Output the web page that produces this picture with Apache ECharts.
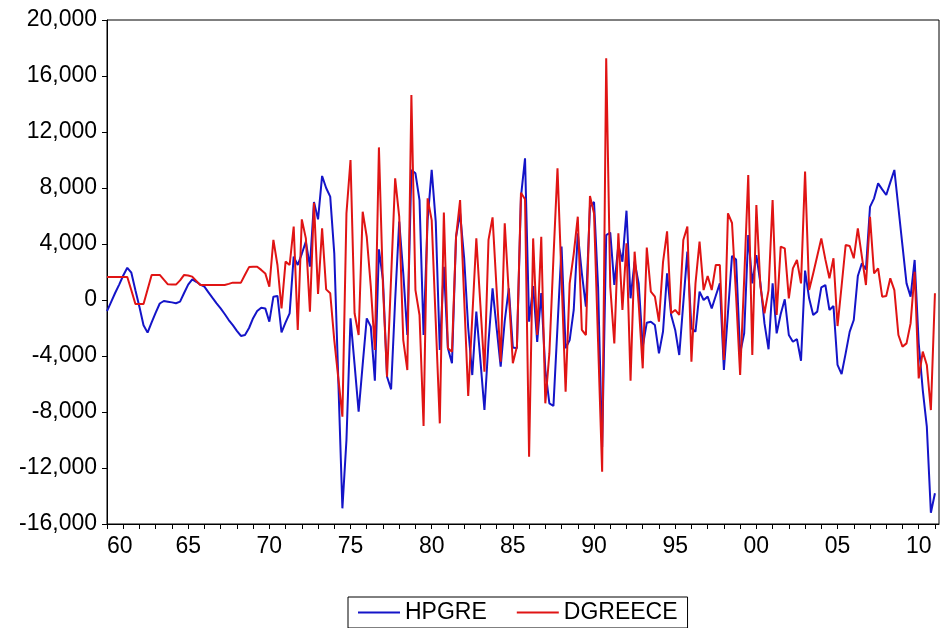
<!DOCTYPE html>
<html>
<head>
<meta charset="utf-8">
<script src="https://cdn.jsdelivr.net/npm/echarts@6/dist/echarts.min.js"></script>
<style>html,body{margin:0;padding:0;background:#fff}#c{width:941px;height:628px}</style>
</head>
<body>
<div id="c"></div>
<script>
// Quarterly observations, 1960Q1 .. 2011Q1
const START_YEAR = 1960;
const PERIODS_PER_YEAR = 4;

const HPGRE = [
-790,-150,500,1100,1750,2300,1950,700,-500,-1800,
-2330,-1600,-900,-250,-70,-120,-170,-230,-120,500,
1100,1480,1300,1100,950,550,150,-240,-600,-1000,
-1430,-1800,-2200,-2570,-2500,-2000,-1300,-790,-550,-600,
-1550,240,290,-2310,-1600,-950,3100,2500,3300,4170,
2380,7000,5760,8860,8000,7380,3330,-5800,-14880,-10000,
-1310,-4600,-7980,-4600,-1310,-1900,-5760,3620,1430,-5480,
-6380,0,5600,1900,-2500,9290,9050,7140,-2500,5710,
9290,5600,-3570,2380,-3450,-4520,4520,6190,3000,-2000,
-5360,-830,-4300,-7860,-3000,830,-2000,-4760,-1500,830,
-3400,-3450,7380,10120,-1550,1000,-3000,500,-5000,-7380,
-7570,-1900,3810,-3450,-2860,-710,4760,1900,-480,6670,
7000,950,-10500,4640,4810,1070,3930,2740,6380,120,
2740,1190,-3330,-1620,-1550,-1790,-3810,-2250,1900,-1070,
-2140,-3930,-200,3450,-2020,-2260,600,0,240,-600,
300,1190,-5000,-900,3150,2900,-3810,-2380,4640,1190,
3210,1190,-1670,-3520,1190,-2380,-1000,50,-2500,-2980,
-2790,-4340,2100,120,-1070,-830,900,1070,-710,-430,
-4640,-5290,-3810,-2260,-1430,1710,2620,2190,6650,7260,
8330,7900,7500,8400,9290,6590,3890,1190,240,2860,
-3100,-6430,-9050,-15200,-13800
];

const DGREECE = [
1640,1640,1640,1640,1640,1640,700,-290,-290,-290,
750,1790,1790,1790,1450,1120,1100,1100,1400,1790,
1750,1670,1370,1070,1070,1070,1070,1070,1070,1070,
1150,1240,1240,1240,1800,2350,2380,2380,2150,1900,
950,4290,2500,-600,2740,2500,5240,-2140,5760,4400,
-830,6950,430,5120,760,480,-2860,-5600,-8330,6190,
10000,-950,-2500,6310,4520,950,-3570,10900,950,-5480,
1600,8690,5950,-2860,-5000,14640,710,-1070,-9000,7260,
5710,-1550,-8810,6240,-3450,-3690,4500,7140,140,-6860,
-1230,4400,-360,-5120,4290,5900,750,-4400,5480,480,
-4520,-3330,7660,7200,-11200,4400,-2500,4520,-7380,-3800,
3000,9400,1500,-6550,1190,3300,5950,-2140,-2500,7430,
6190,-3000,-12260,17260,950,-3100,4760,-710,4050,-5760,
3450,-240,-4880,3740,600,240,-1550,2700,4900,-950,
-710,-1070,4290,5240,-4400,1190,4170,710,1710,710,
2500,2500,-4290,6190,5500,300,-5360,1500,8930,-3930,
6790,950,-950,710,7140,-1070,3810,3690,120,2260,
2860,1190,9170,710,1900,3150,4400,2900,1550,2980,
-1860,1000,3930,3860,2980,5120,3100,1070,5950,1900,
2260,240,290,1550,710,-2500,-3330,-3100,-1670,2020,
-5600,-3690,-4640,-7860,480
];

const Y_TICKS = [-16000,-12000,-8000,-4000,0,4000,8000,12000,16000,20000];
const X_LABEL_YEARS = [1960,1965,1970,1975,1980,1985,1990,1995,2000,2005,2010];

function toPairs(arr){
  return arr.map((v,i)=>[START_YEAR + i/PERIODS_PER_YEAR, v]);
}

const FONT = "Arial, 'Liberation Sans', sans-serif";
const FS = 23;
const chart = echarts.init(document.getElementById('c'), null, {renderer:'canvas'});
chart.setOption({
  animation:false,
  backgroundColor:'#ffffff',
  grid:{left:107, right:2, top:20, bottom:104, show:true, borderColor:'#000', borderWidth:1, backgroundColor:'transparent'},
  legend:{
    data:['HPGRE','DGREECE'],
    left:348, top:597,
    itemWidth:42, itemHeight:2, itemGap:30,
    icon:'rect',
    borderColor:'#000', borderWidth:1, padding:[4,10,4,10],
    textStyle:{fontFamily:FONT, fontSize:FS, color:'#000'}
  },
  xAxis:{
    type:'value', min:START_YEAR, max:2011.25, interval:1,
    axisLine:{show:true, onZero:false, lineStyle:{color:'#000', width:1}},
    axisTick:{show:true, length:5, lineStyle:{color:'#000'}},
    splitLine:{show:false},
    axisLabel:{
      showMaxLabel:false, showMinLabel:true, margin:11, alignMinLabel:'left',
      fontFamily:FONT, fontSize:FS, color:'#000',
      formatter:function(v){
        const y = Math.round(v);
        if (Math.abs(v-y)>1e-6 || X_LABEL_YEARS.indexOf(y)<0) return '';
        return String(y%100).padStart(2,'0');
      }
    }
  },
  yAxis:{
    type:'value', min:Y_TICKS[0], max:Y_TICKS[Y_TICKS.length-1], interval:4000,
    axisLine:{show:true, lineStyle:{color:'#000', width:1}},
    axisTick:{show:true, length:5, lineStyle:{color:'#000'}},
    splitLine:{show:false},
    axisLabel:{margin:10, fontFamily:FONT, fontSize:FS, color:'#000',
      formatter:function(v){ return v.toLocaleString('en-US'); }}
  },
  series:[
    {name:'HPGRE', type:'line', data:toPairs(HPGRE), showSymbol:false, symbol:'none',
     lineStyle:{color:'#1414c8', width:2}, itemStyle:{color:'#1414c8'}, z:2},
    {name:'DGREECE', type:'line', data:toPairs(DGREECE), showSymbol:false, symbol:'none',
     lineStyle:{color:'#e01414', width:2}, itemStyle:{color:'#e01414'}, z:3}
  ]
});
</script>
</body>
</html>
